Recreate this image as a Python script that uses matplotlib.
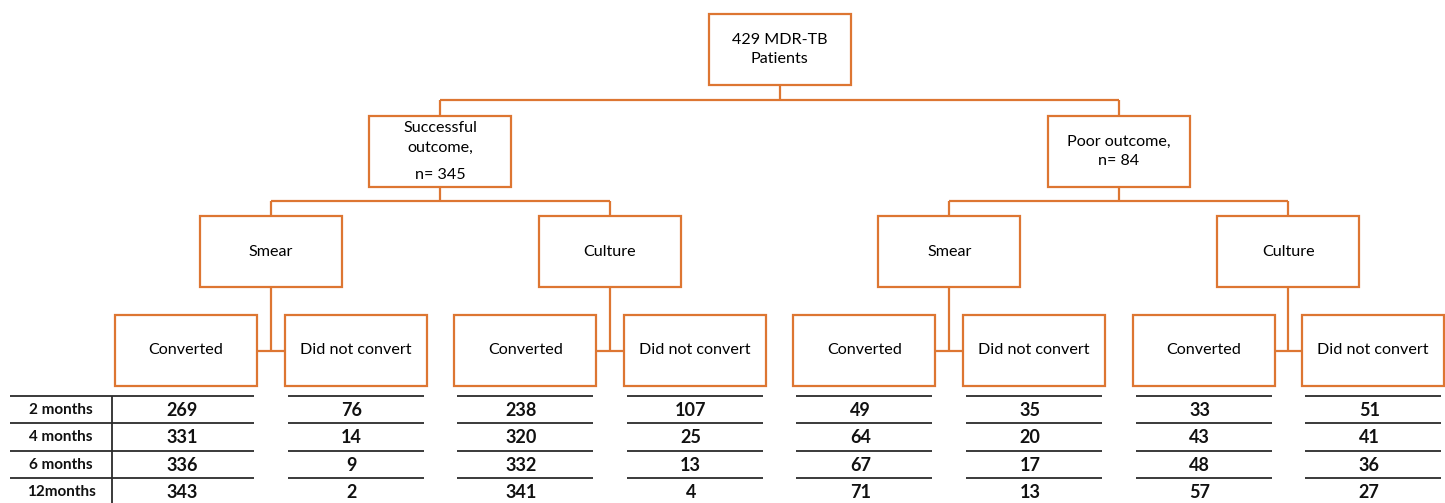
import numpy as np
import matplotlib
matplotlib.use("Agg")
import matplotlib.pyplot as plt
from matplotlib.patches import Rectangle

plt.rcParams["font.family"] = ["Lato", "DejaVu Sans"]

# ── data ─────────────────────────────────────────────────────────────────────
TOP_LABEL = ["429 MDR-TB", "Patients"]
OUTCOME_LABELS = [["Successful", "outcome,", "n= 345"], ["Poor outcome,", "n= 84"]]
TEST_LABELS = ["Smear", "Culture"]
LEAF_LABELS = ["Converted", "Did not convert"]

ROW_LABELS = ["2 months", "4 months", "6 months", "12months"]
succ_smear_conv = [269, 331, 336, 343]
succ_smear_not = [76, 14, 9, 2]
succ_cult_conv = [238, 320, 332, 341]
succ_cult_not = [107, 25, 13, 4]
poor_smear_conv = [49, 64, 67, 71]
poor_smear_not = [35, 20, 17, 13]
poor_cult_conv = [33, 43, 48, 57]
poor_cult_not = [51, 41, 36, 27]
COLUMNS = [succ_smear_conv, succ_smear_not, succ_cult_conv, succ_cult_not,
           poor_smear_conv, poor_smear_not, poor_cult_conv, poor_cult_not]

# ── layout (pixel space) ─────────────────────────────────────────────────────
W, H = 1445, 503
ORANGE = "#DD7632"
LINE_K = "#2b2b2b"
BOX_W, BOX_H = 142, 71
LEAF_X0, LEAF_STEP = 115, 169.6
Y_TOP, Y_OUT, Y_TEST, Y_LEAF = 14, 116, 216, 315
ROW_LINES = [396, 423, 451, 478]
ROW_H = 27.3
LW = 1.6
FS = 11.6


def box(ax, cx, top):
    ax.add_patch(Rectangle((cx - BOX_W / 2, top), BOX_W, BOX_H, fill=False,
                           edgecolor=ORANGE, linewidth=LW, zorder=3))


def seg(ax, xs, ys, color=ORANGE, lw=LW):
    ax.plot(xs, ys, color=color, linewidth=lw, solid_capstyle="butt", zorder=2)


fig = plt.figure(figsize=(W / 100, H / 100), dpi=100, facecolor="white")
ax = fig.add_axes([0, 0, 1, 1])
ax.set_xlim(0, W)
ax.set_ylim(H, 0)
ax.axis("off")

leaf_cx = [LEAF_X0 + LEAF_STEP * i + BOX_W / 2 for i in range(8)]
test_cx = [(leaf_cx[2 * i] + leaf_cx[2 * i + 1]) / 2 for i in range(4)]
out_cx = [(test_cx[2 * i] + test_cx[2 * i + 1]) / 2 for i in range(2)]
top_cx = (out_cx[0] + out_cx[1]) / 2

# top box
box(ax, top_cx, Y_TOP)
for txt, y in zip(TOP_LABEL, [40, 59]):
    ax.text(top_cx, y, txt, ha="center", va="center", fontsize=FS)

# connector top -> outcomes
y_h = 100
seg(ax, [top_cx, top_cx], [Y_TOP + BOX_H, y_h])
seg(ax, [out_cx[0], out_cx[1]], [y_h, y_h])
for cx in out_cx:
    seg(ax, [cx, cx], [y_h, Y_OUT])

# outcome boxes
box(ax, out_cx[0], Y_OUT)
for txt, y in zip(OUTCOME_LABELS[0], [128, 148, 175]):
    ax.text(out_cx[0], y, txt, ha="center", va="center", fontsize=FS)
box(ax, out_cx[1], Y_OUT)
for txt, y in zip(OUTCOME_LABELS[1], [142, 161]):
    ax.text(out_cx[1], y, txt, ha="center", va="center", fontsize=FS)

# outcomes -> tests
y_h2 = 201
for k, cx in enumerate(out_cx):
    seg(ax, [cx, cx], [Y_OUT + BOX_H, y_h2])
    t0, t1 = test_cx[2 * k], test_cx[2 * k + 1]
    seg(ax, [t0, t1], [y_h2, y_h2])
    for tx in (t0, t1):
        seg(ax, [tx, tx], [y_h2, Y_TEST])

# test boxes and leaves
y_mid = Y_LEAF + BOX_H / 2
for i, cx in enumerate(test_cx):
    box(ax, cx, Y_TEST)
    ax.text(cx, Y_TEST + BOX_H / 2, TEST_LABELS[i % 2], ha="center",
            va="center", fontsize=FS)
    seg(ax, [cx, cx], [Y_TEST + BOX_H, y_mid])
    seg(ax, [leaf_cx[2 * i] + BOX_W / 2, leaf_cx[2 * i + 1] - BOX_W / 2],
        [y_mid, y_mid])

for i, cx in enumerate(leaf_cx):
    box(ax, cx, Y_LEAF)
    ax.text(cx, y_mid, LEAF_LABELS[i % 2], ha="center", va="center",
            fontsize=FS)

# ── table ────────────────────────────────────────────────────────────────────
for i, cx in enumerate(leaf_cx):
    x0 = 10 if i == 0 else cx - BOX_W / 2 + 3
    x1 = cx + BOX_W / 2 - 3
    for y in ROW_LINES:
        seg(ax, [x0, x1], [y, y], color=LINE_K, lw=1.3)
    for r, v in enumerate(COLUMNS[i]):
        ax.text(cx - 4, ROW_LINES[r] + ROW_H / 2 + 1, str(v), ha="center",
                va="center", fontsize=13, fontweight="bold", color="#111111")

seg(ax, [112, 112], [ROW_LINES[0], H], color=LINE_K, lw=1.3)
for r, lab in enumerate(ROW_LABELS):
    ax.text(61, ROW_LINES[r] + ROW_H / 2, lab, ha="center", va="center",
            fontsize=11, fontweight="bold", color="#111111")

fig.savefig("out.png", dpi=100, facecolor="white")
plt.close(fig)
